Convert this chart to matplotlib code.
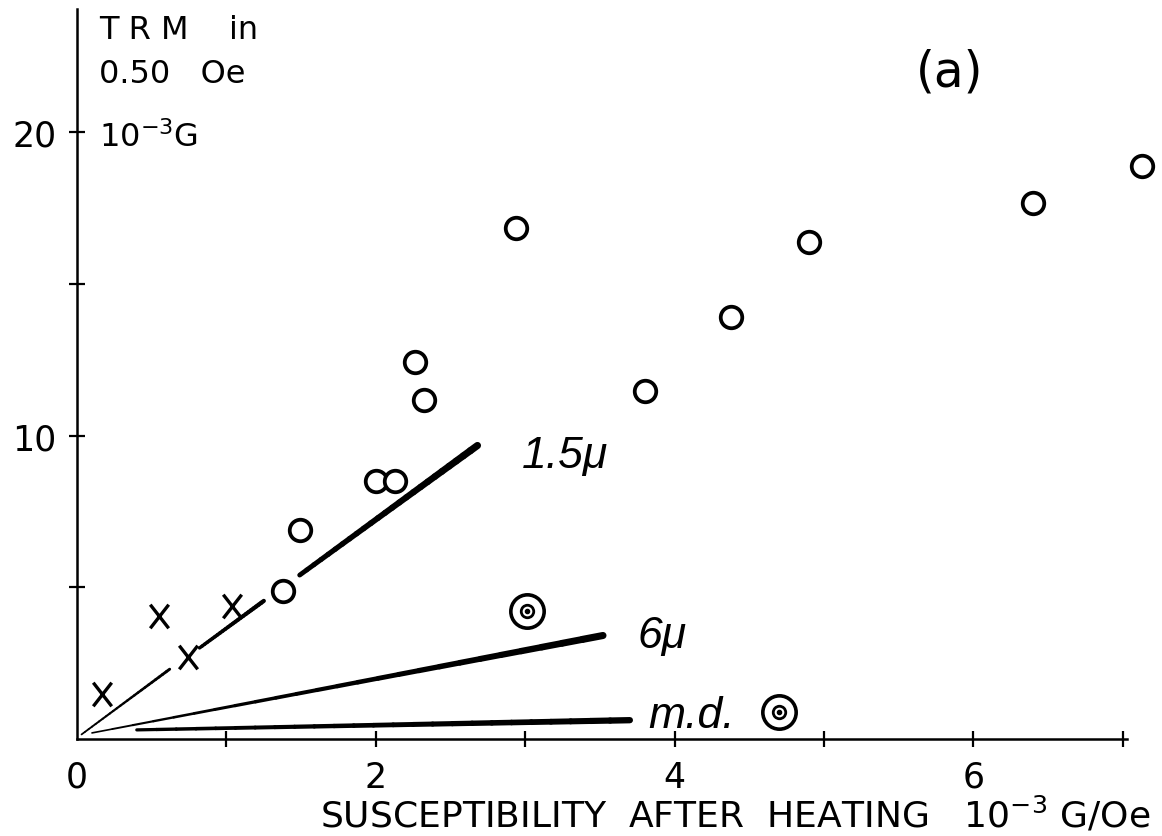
import numpy as np
import matplotlib
matplotlib.use("Agg")
import matplotlib.pyplot as plt
from matplotlib.collections import LineCollection
from matplotlib.path import Path

plt.rcParams["font.family"] = ["DejaVu Sans"]
plt.rcParams["mathtext.default"] = "regular"

# open circles
circle_x = [1.38, 1.49, 2.00, 2.13, 2.26, 2.32, 2.94, 3.80, 4.38, 4.90, 6.40, 7.13]
circle_y = [4.88, 6.89, 8.50, 8.50, 12.42, 11.17, 16.84, 11.47, 13.90, 16.38, 17.66, 18.88]
# crosses
cross_x = [0.17, 0.55, 0.74, 1.04]
cross_y = [1.48, 4.05, 2.70, 4.38]
# circles with a dot
dot_x = [3.01, 4.70]
dot_y = [4.22, 0.89]

# model lines (pieces of each line, start/end)
line_15_x = [[0.03, 0.62], [0.82, 1.25], [1.49, 2.68]]
line_15_y = [[0.15, 2.30], [3.00, 4.55], [5.40, 9.67]]
line_6_x = [[0.10, 3.52]]
line_6_y = [[0.20, 3.41]]
line_md_x = [[0.40, 3.70]]
line_md_y = [[0.30, 0.62]]

x_ticks = [0, 1, 2, 3, 4, 5, 6, 7]
x_labels = ["0", "", "2", "", "4", "", "6", ""]
y_ticks = [5, 10, 15, 20]
y_labels = ["", "10", "", "20"]

fig = plt.figure(figsize=(11.62, 8.37), dpi=100)
ax = fig.add_axes([0.0663, 0.1159, 0.9322, 0.8811])
ax.set_xlim(0, 7.25)
ax.set_ylim(0, 24.3)


def tapered(xs, ys, x_end, w0=1.0, w1=5.0, n=25):
    for (xa, xb), (ya, yb) in zip(xs, ys):
        t = np.linspace(0, 1, n + 1)
        px = xa + (xb - xa) * t
        py = ya + (yb - ya) * t
        segs = np.stack([np.column_stack([px[:-1], py[:-1]]),
                         np.column_stack([px[1:], py[1:]])], axis=1)
        mid = (px[:-1] + px[1:]) / 2
        widths = w0 + (w1 - w0) * mid / x_end
        ax.add_collection(LineCollection(segs, linewidths=widths, colors="black",
                                         capstyle="round", zorder=2))


tapered(line_15_x, line_15_y, line_15_x[-1][1], w0=1.2, w1=5.2)
tapered(line_6_x, line_6_y, line_6_x[-1][1], w0=1.0, w1=5.2)
tapered(line_md_x, line_md_y, line_md_x[-1][1], w0=2.0, w1=4.6)

# tall hand-drawn style cross
tall_x = Path([(-0.78, -1), (0.78, 1), (-0.78, 1), (0.78, -1)],
              [Path.MOVETO, Path.LINETO, Path.MOVETO, Path.LINETO])

ax.plot(circle_x, circle_y, "o", ms=15.5, mfc="white", mec="black", mew=2.7, zorder=3)
ax.plot(cross_x, cross_y, marker=tall_x, ls="none", ms=17, mec="black", mew=2.4, zorder=3)
ax.plot(dot_x, dot_y, "o", ms=24, mfc="white", mec="black", mew=2.6, zorder=3)
ax.plot(dot_x, dot_y, "o", ms=9, mfc="white", mec="black", mew=2.0, zorder=4)
ax.plot(dot_x, dot_y, "o", ms=3, color="black", zorder=5)

lab_font = dict(family="Liberation Sans", style="italic", fontsize=32, va="baseline")
ax.text(2.98, 8.96, "1.5μ", **lab_font)
ax.text(3.75, 3.03, "6μ", **lab_font)
ax.text(3.82, 0.40, "m.d.", **lab_font)

ax.text(5.84, 21.98, "(a)", fontsize=35, ha="center", va="center")

ax.text(0.15, 23.1, "T R M    in", fontsize=23, va="baseline")
ax.text(0.15, 21.65, "0.50   Oe", fontsize=23, va="baseline")
ax.text(0.15, 19.54, "10$^{-3}$G", fontsize=23, va="baseline")

fig.text(1150 / 1162, 9 / 837, "SUSCEPTIBILITY  AFTER  HEATING   10$^{-3}$ G/Oe",
         fontsize=26, ha="right", va="baseline")

for side in ["top", "right"]:
    ax.spines[side].set_visible(False)
ax.spines["left"].set_bounds(0, 24.05)
ax.spines["bottom"].set_bounds(0, 7.03)
ax.spines["left"].set_linewidth(1.8)
ax.spines["bottom"].set_linewidth(1.8)

ax.set_xticks(x_ticks, x_labels)
ax.set_yticks(y_ticks, y_labels)
ax.tick_params(direction="inout", length=12, width=1.6, pad=9, labelsize=25)
ax.xaxis.get_major_ticks()[0].tick1line.set_visible(False)

fig.savefig("out.png", dpi=100)
